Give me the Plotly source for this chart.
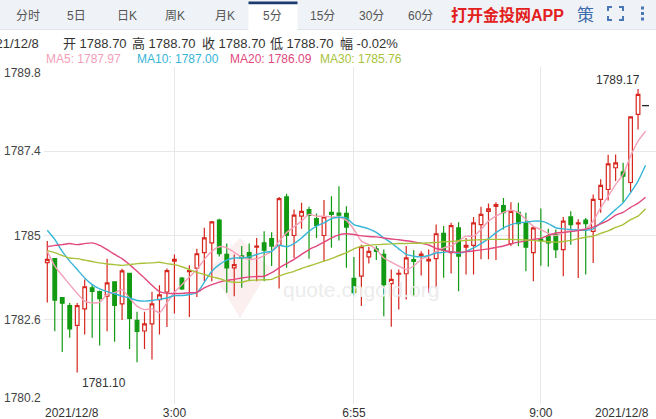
import plotly.graph_objects as go

# ---------------- data ----------------
opens = [1784.23, 1784.34, 1783.23, 1783.00, 1782.44, 1782.91, 1783.51, 1783.40, 1783.27, 1783.68,
         1783.05, 1783.92, 1782.58, 1782.28, 1782.48, 1783.17, 1783.39, 1784.27, 1783.79, 1783.97,
         1784.07, 1784.51, 1784.79, 1785.44, 1784.46, 1784.08, 1784.42, 1784.51, 1784.67, 1784.79,
         1784.91, 1784.72, 1786.10, 1785.00, 1785.55, 1785.74, 1785.48, 1785.00, 1785.66, 1785.64,
         1785.63, 1783.78, 1783.84, 1784.39, 1784.62, 1784.46, 1783.63, 1783.90, 1783.91, 1784.31,
         1784.43, 1784.28, 1784.34, 1785.06, 1784.51, 1785.22, 1784.67, 1784.72, 1785.31, 1785.69,
         1785.83, 1785.85, 1784.77, 1785.66, 1785.36, 1784.51, 1784.90, 1784.98, 1785.03, 1784.60,
         1785.53, 1785.33, 1785.44, 1785.12, 1786.03, 1786.31, 1786.93, 1786.81, 1786.51, 1788.45,
         1788.70]
highs = [1784.84, 1784.36, 1783.25, 1783.08, 1783.08, 1783.75, 1783.62, 1783.43, 1784.34, 1783.70,
         1784.05, 1783.92, 1782.83, 1782.83, 1783.40, 1783.58, 1784.06, 1784.46, 1783.82, 1784.15,
         1784.62, 1785.22, 1785.41, 1785.48, 1784.77, 1784.46, 1784.70, 1784.77, 1784.93, 1785.12,
         1785.09, 1786.10, 1786.19, 1785.74, 1785.93, 1785.82, 1785.63, 1786.01, 1786.12, 1786.40,
         1785.83, 1784.39, 1784.74, 1784.68, 1784.70, 1784.60, 1784.03, 1784.03, 1784.70, 1784.58,
         1784.55, 1784.60, 1785.31, 1785.27, 1785.36, 1785.38, 1784.93, 1785.53, 1785.82, 1785.91,
         1785.95, 1786.07, 1785.95, 1785.93, 1785.65, 1785.27, 1785.77, 1785.19, 1785.17, 1785.53,
         1785.69, 1785.46, 1785.50, 1786.17, 1786.60, 1787.30, 1787.31, 1787.07, 1788.40, 1789.17,
         1788.70]
lows = [1783.09, 1782.27, 1781.68, 1782.09, 1781.10, 1782.18, 1782.09, 1781.87, 1782.27, 1781.97,
        1782.59, 1781.77, 1781.39, 1781.77, 1781.47, 1782.18, 1782.39, 1782.78, 1783.45, 1782.68,
        1783.25, 1783.70, 1783.70, 1784.40, 1783.37, 1783.27, 1783.51, 1783.70, 1783.70, 1783.70,
        1784.13, 1783.49, 1784.08, 1784.36, 1785.19, 1784.34, 1784.93, 1784.27, 1784.65, 1784.86,
        1784.08, 1783.30, 1782.99, 1784.20, 1784.30, 1782.70, 1782.40, 1782.89, 1783.18, 1783.27,
        1783.86, 1783.37, 1783.49, 1783.80, 1783.92, 1783.41, 1783.89, 1783.89, 1784.32, 1784.32,
        1784.30, 1785.17, 1784.70, 1784.70, 1783.98, 1783.70, 1784.14, 1784.11, 1784.36, 1783.84,
        1784.74, 1783.79, 1783.89, 1784.22, 1785.65, 1786.00, 1786.55, 1785.93, 1786.22, 1788.02,
        1788.70]
closes = [1784.32, 1783.16, 1783.07, 1782.34, 1783.00, 1783.54, 1783.41, 1783.20, 1783.65, 1783.01,
          1783.99, 1782.64, 1782.27, 1782.48, 1783.05, 1783.31, 1784.00, 1784.32, 1783.48, 1784.00,
          1784.48, 1784.93, 1785.39, 1784.48, 1784.08, 1784.17, 1784.36, 1784.36, 1784.70, 1784.58,
          1784.70, 1786.05, 1785.01, 1785.58, 1785.69, 1785.57, 1785.29, 1785.53, 1785.60, 1785.58,
          1785.24, 1783.37, 1784.68, 1784.55, 1784.55, 1783.60, 1783.75, 1783.92, 1784.36, 1784.26,
          1784.47, 1784.32, 1785.05, 1784.58, 1785.28, 1784.41, 1784.72, 1785.36, 1785.60, 1785.76,
          1785.88, 1785.65, 1785.69, 1785.34, 1784.67, 1785.22, 1784.85, 1784.79, 1784.60, 1785.41,
          1785.31, 1785.36, 1785.34, 1786.03, 1786.43, 1787.04, 1787.07, 1786.69, 1788.38, 1789.02,
          1788.70]

ma5 = [1784.55, 1784.13, 1783.86, 1783.60, 1783.35, 1783.13, 1783.08, 1783.10, 1783.32, 1783.37,
       1783.46, 1783.22, 1782.99, 1782.89, 1782.91, 1782.80, 1783.08, 1783.38, 1783.60, 1783.82,
       1784.03, 1784.32, 1784.55, 1784.68, 1784.65, 1784.52, 1784.39, 1784.32, 1784.34, 1784.43,
       1784.55, 1784.84, 1785.08, 1785.25, 1785.41, 1785.60, 1785.55, 1785.55, 1785.53, 1785.52,
       1785.43, 1785.17, 1784.84, 1784.74, 1784.60, 1784.36, 1784.24, 1784.13, 1784.03, 1784.13,
       1784.32, 1784.41, 1784.55, 1784.65, 1784.70, 1784.84, 1784.98, 1784.98, 1785.17, 1785.41,
       1785.55, 1785.66, 1785.72, 1785.65, 1785.46, 1785.26, 1785.17, 1785.06, 1785.00, 1785.08,
       1785.15, 1785.17, 1785.19, 1785.41, 1785.79, 1786.12, 1786.45, 1786.74, 1787.26, 1787.69,
       1787.97]
ma10 = [1785.15, 1784.89, 1784.55, 1784.27, 1784.03, 1783.79, 1783.60, 1783.48, 1783.40, 1783.34,
        1783.27, 1783.22, 1783.15, 1783.13, 1783.15, 1783.18, 1783.22, 1783.29, 1783.29, 1783.32,
        1783.37, 1783.67, 1783.98, 1784.17, 1784.30, 1784.36, 1784.36, 1784.39, 1784.46, 1784.52,
        1784.55, 1784.72, 1784.68, 1784.77, 1784.93, 1785.12, 1785.27, 1785.36, 1785.48, 1785.52,
        1785.50, 1785.31, 1785.25, 1785.19, 1785.09, 1784.93, 1784.79, 1784.62, 1784.46, 1784.41,
        1784.39, 1784.43, 1784.50, 1784.52, 1784.54, 1784.49, 1784.55, 1784.65, 1784.77, 1784.91,
        1785.08, 1785.22, 1785.31, 1785.36, 1785.38, 1785.41, 1785.41, 1785.34, 1785.22, 1785.19,
        1785.17, 1785.15, 1785.15, 1785.19, 1785.36, 1785.55, 1785.74, 1785.93, 1786.22, 1786.55,
        1787.00]
ma20 = [1784.68, 1784.72, 1784.74, 1784.77, 1784.74, 1784.77, 1784.79, 1784.72, 1784.60, 1784.46,
        1784.34, 1784.17, 1783.98, 1783.79, 1783.58, 1783.40, 1783.35, 1783.35, 1783.35, 1783.37,
        1783.38, 1783.51, 1783.60, 1783.67, 1783.72, 1783.75, 1783.79, 1783.82, 1783.83, 1783.84,
        1783.94, 1784.08, 1784.20, 1784.32, 1784.46, 1784.60, 1784.70, 1784.81, 1784.93, 1785.02,
        1785.05, 1785.03, 1784.99, 1784.97, 1784.96, 1784.93, 1784.90, 1784.88, 1784.85, 1784.82,
        1784.78, 1784.73, 1784.63, 1784.58, 1784.53, 1784.52, 1784.54, 1784.56, 1784.59, 1784.62,
        1784.66, 1784.70, 1784.76, 1784.81, 1784.85, 1784.89, 1784.92, 1785.00, 1785.07, 1785.09,
        1785.11, 1785.14, 1785.18, 1785.24, 1785.33, 1785.43, 1785.58, 1785.66, 1785.80, 1785.92,
        1786.09]
ma30 = [1784.57, 1784.51, 1784.43, 1784.36, 1784.34, 1784.30, 1784.26, 1784.22, 1784.19, 1784.17,
        1784.15, 1784.17, 1784.20, 1784.21, 1784.22, 1784.24, 1784.20, 1784.17, 1784.11, 1784.03,
        1783.95, 1783.89, 1783.82, 1783.77, 1783.70, 1783.67, 1783.67, 1783.72, 1783.73, 1783.74,
        1783.75, 1783.84, 1783.92, 1783.98, 1784.06, 1784.13, 1784.20, 1784.27, 1784.34, 1784.43,
        1784.51, 1784.62, 1784.69, 1784.72, 1784.74, 1784.75, 1784.76, 1784.77, 1784.77, 1784.78,
        1784.78, 1784.79, 1784.80, 1784.82, 1784.83, 1784.85, 1784.86, 1784.87, 1784.88, 1784.89,
        1784.89, 1784.89, 1784.89, 1784.88, 1784.87, 1784.86, 1784.84, 1784.82, 1784.81, 1784.83,
        1784.86, 1784.91, 1784.95, 1784.98, 1785.06, 1785.13, 1785.23, 1785.31, 1785.45, 1785.55,
        1785.76]

date_label = "2021/12/8"
time_tick_index = [17, 41, 66]
time_tick_text = ["3:00", "6:55", "9:00"]
y_ticks = [1780.2, 1782.6, 1785.0, 1787.4, 1789.8]
tabs = ["分时", "5日", "日K", "周K", "月K", "5分", "15分", "30分", "60分"]
selected_tab = "5分"
ma_names = ["MA5", "MA10", "MA20", "MA30"]

# ---------------- layout helpers ----------------
W, H = 656, 419
PL, PR, PT, PB = 44, 656, 67, 404
FONT = "Liberation Sans, Arial, Noto Sans CJK SC, sans-serif"
RED, GREEN = "#d7261e", "#129a12"
MA_COLORS = ["#f4a0b9", "#37b5d8", "#e2487e", "#a8c23c"]


def px(X):
    return (X - PL) / (PR - PL)


def py(Y):
    return (PB - Y) / (PB - PT)


n = len(closes)
xs = list(range(n))

fig = go.Figure()

# candles (all but the live last bar)
fig.add_trace(go.Candlestick(
    x=xs[:-1], open=opens[:-1], high=highs[:-1], low=lows[:-1], close=closes[:-1],
    increasing=dict(line=dict(color=RED, width=1.2), fillcolor="white"),
    decreasing=dict(line=dict(color=GREEN, width=1.2), fillcolor=GREEN),
    whiskerwidth=0, showlegend=False, hoverinfo="skip"))

# live bar marker
fig.add_trace(go.Scatter(
    x=xs[-1:], y=closes[-1:], mode="markers",
    marker=dict(symbol="line-ew", size=5, line=dict(color="#222", width=1.3)),
    showlegend=False, hoverinfo="skip"))

for name, vals, col in zip(ma_names, [ma5, ma10, ma20, ma30], MA_COLORS):
    fig.add_trace(go.Scatter(
        x=xs, y=vals, mode="lines", name=name,
        line=dict(color=col, width=1.4, shape="spline", smoothing=0.6),
        showlegend=False, hoverinfo="skip"))

ann = []
shapes = []

# y tick labels
for v in y_ticks:
    shift = 0
    if v == max(y_ticks):
        shift = -6
    elif v == min(y_ticks):
        shift = 6
    ann.append(dict(x=0, xref="paper", y=v, yref="y", text=f"{v:g}", showarrow=False,
                    xanchor="right", yanchor="middle", xshift=-1, yshift=shift,
                    font=dict(size=12, color="#444", family=FONT)))

# edge date labels
ann.append(dict(x=xs[0], xref="x", y=0, yref="paper", text=date_label, showarrow=False,
                xanchor="left", yanchor="top", xshift=-4, yshift=0,
                font=dict(size=12, color="#333", family=FONT)))
ann.append(dict(x=xs[-1], xref="x", y=0, yref="paper", text=date_label, showarrow=False,
                xanchor="right", yanchor="top", xshift=5, yshift=0,
                font=dict(size=12, color="#333", family=FONT)))

# extreme labels
i_hi = max(range(n), key=lambda i: highs[i])
i_lo = min(range(n), key=lambda i: lows[i])
ann.append(dict(x=i_hi, y=highs[i_hi], text=f"{highs[i_hi]:.2f}", showarrow=False,
                xanchor="right", yanchor="bottom", xshift=4, yshift=0,
                font=dict(size=12, color="#333", family=FONT)))
ann.append(dict(x=i_lo, y=lows[i_lo], text=f"{lows[i_lo]:.2f}", showarrow=False,
                xanchor="left", yanchor="top", xshift=3, yshift=-2,
                font=dict(size=12, color="#333", family=FONT)))

# watermark
ann.append(dict(x=px(361), y=py(303), xref="paper", yref="paper", text="quote.cngold.org",
                showarrow=False, font=dict(size=21, color="#ececec", family=FONT)))
shapes.append(dict(type="path", xref="paper", yref="paper", layer="below",
                   path=f"M {px(240)},{py(238)} L {px(270)},{py(268)} L {px(240)},{py(318)} L {px(210)},{py(268)} Z",
                   fillcolor="rgba(240,190,190,0.25)", line=dict(width=0)))

# header tab bar
shapes.append(dict(type="rect", xref="paper", yref="paper", x0=px(0), x1=px(656), y0=py(0), y1=py(29.5),
                   fillcolor="#eff2f7", line=dict(width=0)))
shapes.append(dict(type="line", xref="paper", yref="paper", x0=px(0), x1=px(656), y0=py(29.5), y1=py(29.5),
                   line=dict(color="#dfe4ec", width=1)))
tab_centers = [27.5, 76.5, 127, 175, 225, 272.5, 322.5, 371.5, 420]
for t, cx in zip(tabs, tab_centers):
    if t == selected_tab:
        shapes.append(dict(type="rect", xref="paper", yref="paper", x0=px(248.5), x1=px(297.5),
                           y0=py(2), y1=py(30), fillcolor="white", line=dict(width=0)))
        shapes.append(dict(type="rect", xref="paper", yref="paper", x0=px(248.5), x1=px(297.5),
                           y0=py(1.5), y1=py(4.2), fillcolor="#1d3a6e", line=dict(width=0)))
    ann.append(dict(x=px(cx), y=py(16), xref="paper", yref="paper", text=t, showarrow=False,
                    xanchor="center", yanchor="middle",
                    font=dict(size=12, color="#555", family=FONT)))
ann.append(dict(x=px(507), y=py(15), xref="paper", yref="paper", text="<b>打开金投网APP</b>",
                showarrow=False, xanchor="center", yanchor="middle",
                font=dict(size=16, color="#e3201c", family=FONT)))
ann.append(dict(x=px(585), y=py(15), xref="paper", yref="paper", text="策",
                showarrow=False, xanchor="center", yanchor="middle",
                font=dict(size=17, color="#3d6cad", family=FONT)))
icon_col = "#4a77b5"
for path in [f"M {px(608)},{py(11)} L {px(608)},{py(7)} L {px(612)},{py(7)}",
             f"M {px(619)},{py(7)} L {px(623)},{py(7)} L {px(623)},{py(11)}",
             f"M {px(608)},{py(16)} L {px(608)},{py(20)} L {px(612)},{py(20)}",
             f"M {px(619)},{py(20)} L {px(623)},{py(20)} L {px(623)},{py(16)}"]:
    shapes.append(dict(type="path", xref="paper", yref="paper", path=path,
                       line=dict(color=icon_col, width=2)))
for cy in [8, 13.5, 19]:
    shapes.append(dict(type="rect", xref="paper", yref="paper", x0=px(641), x1=px(644),
                       y0=py(cy - 1.5), y1=py(cy + 1.5), fillcolor=icon_col, line=dict(width=0)))

# info line (last bar)
chg = (closes[-1] - closes[-2]) / closes[-2] * 100
info_items = [("开", opens[-1]), ("高", highs[-1]), ("收", closes[-1]), ("低", lows[-1])]
ann.append(dict(x=px(40.5), y=py(44), xref="paper", yref="paper", text=date_label, showarrow=False,
                xanchor="right", yanchor="middle", font=dict(size=13, color="#333", family=FONT)))
info_x = [61, 130, 199.5, 268]
for (lab, v), lx in zip(info_items, info_x):
    ann.append(dict(x=px(lx), y=py(44), xref="paper", yref="paper", text=f"{lab} {v:.2f}",
                    showarrow=False, xanchor="left", yanchor="middle",
                    font=dict(size=13, color="#333", family=FONT)))
ann.append(dict(x=px(338), y=py(44), xref="paper", yref="paper", text=f"幅 {chg:.2f}%",
                showarrow=False, xanchor="left", yanchor="middle",
                font=dict(size=13, color="#333", family=FONT)))

# MA legend
ma_x = [43.5, 134.5, 227.5, 318]
for name, vals, col, lx in zip(ma_names, [ma5, ma10, ma20, ma30], MA_COLORS, ma_x):
    ann.append(dict(x=px(lx), y=py(59), xref="paper", yref="paper", text=f"{name}: {vals[-1]:.2f}",
                    showarrow=False, xanchor="left", yanchor="middle",
                    font=dict(size=12, color=col, family=FONT)))

fig.update_layout(
    width=W, height=H,
    margin=dict(l=PL, r=W - PR, t=PT, b=H - PB, pad=0),
    paper_bgcolor="white", plot_bgcolor="white",
    showlegend=False,
    annotations=ann, shapes=shapes,
    font=dict(family=FONT),
    xaxis=dict(range=[-0.44, 81.4], rangeslider=dict(visible=False),
               tickmode="array", tickvals=time_tick_index, ticktext=time_tick_text,
               showgrid=True, gridcolor="#e8e8e8", gridwidth=1, zeroline=False,
               showline=False, ticks="", tickfont=dict(size=12, color="#333", family=FONT)),
    yaxis=dict(range=[min(y_ticks), max(y_ticks)], tickmode="array", tickvals=y_ticks,
               showticklabels=False, showgrid=True, gridcolor="#e8e8e8", gridwidth=1,
               zeroline=False, showline=False, ticks=""),
)

fig.write_html("out.html",
               config={"displayModeBar": False, "staticPlot": True},
               post_script="document.body.style.margin='0px';document.body.style.overflow='hidden';")
